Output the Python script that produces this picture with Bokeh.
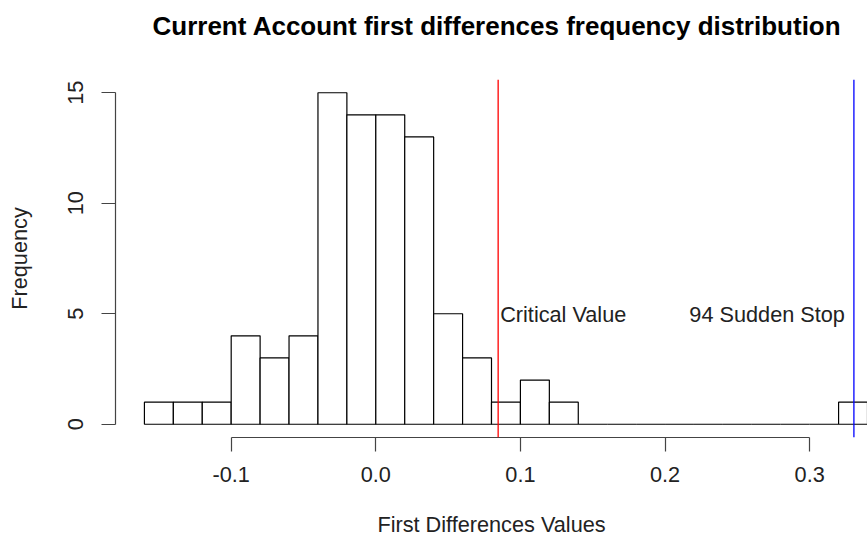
from bokeh.plotting import figure
from bokeh.models import Range1d, FixedTicker, Span, Title
from bokeh.embed import file_html
from bokeh.resources import INLINE
from bokeh.core.properties import value

# Histogram data (bin edges width 0.02 and counts)
bin_edges = [-0.16, -0.14, -0.12, -0.10, -0.08, -0.06, -0.04, -0.02, 0.00,
             0.02, 0.04, 0.06, 0.08, 0.10, 0.12, 0.14, 0.16, 0.18, 0.20,
             0.22, 0.24, 0.26, 0.28, 0.30, 0.32, 0.34]
counts = [1, 1, 1, 4, 3, 4, 15, 14, 14, 13, 5, 3, 1, 2, 1,
          0, 0, 0, 0, 0, 0, 0, 0, 0, 1]

critical_value = 0.0846
sudden_stop = 0.3306
annotation_y = 5

x_ticks = [-0.1, 0.0, 0.1, 0.2, 0.3]
x_tick_labels = ["-0.1", "0.0", "0.1", "0.2", "0.3"]
y_ticks = [0, 5, 10, 15]

FONT = "Liberation Sans"
FS = "21.7px"

p = figure(width=867, height=541, output_backend="svg", toolbar_location=None,
           x_range=Range1d(-0.18, 0.34), y_range=Range1d(-0.6, 15.6),
           min_border_left=115, min_border_right=0,
           min_border_top=79, min_border_bottom=104)

p.title.text = ""

# spacer between frame and title (closest to the frame)
spacer = Title(text=" ", text_font_size="1px", standoff=35.5)
p.add_layout(spacer, "above")

main_title = Title(text="Current Account first differences frequency distribution",
                   text_font=FONT, text_font_size="26px", text_font_style="bold",
                   align="left", vertical_align="bottom", offset=37, standoff=0,
                   text_color="black")
p.add_layout(main_title, "above")

p.outline_line_color = None
p.xgrid.visible = False
p.ygrid.visible = False
p.background_fill_color = "white"
p.border_fill_color = "white"

p.quad(left=bin_edges[:-1], right=bin_edges[1:], bottom=[0] * len(counts), top=counts,
       fill_color="white", line_color="black", line_width=1.2)

p.add_layout(Span(location=critical_value, dimension="height", line_color="red", line_width=1.3))
p.add_layout(Span(location=sudden_stop, dimension="height", line_color="blue", line_width=1.3))

p.text(x=[critical_value], y=[annotation_y], text=["Critical Value"],
       text_font=value(FONT), text_font_size=FS, text_color="#222222",
       text_align="left", text_baseline="alphabetic", x_offset=2, y_offset=1)
p.text(x=[sudden_stop], y=[annotation_y], text=["94 Sudden Stop"],
       text_font=value(FONT), text_font_size=FS, text_color="#222222",
       text_align="right", text_baseline="alphabetic", x_offset=-9, y_offset=1)

xa = p.xaxis[0]
xa.ticker = FixedTicker(ticks=x_ticks)
xa.major_label_overrides = {t: l for t, l in zip(x_ticks, x_tick_labels)}
xa.bounds = (x_ticks[0], x_ticks[-1])
xa.axis_label = "First Differences Values"

ya = p.yaxis[0]
ya.ticker = FixedTicker(ticks=y_ticks)
ya.bounds = (y_ticks[0], y_ticks[-1])
ya.axis_label = "Frequency"
ya.major_label_orientation = "vertical"

for ax in (xa, ya):
    ax.minor_tick_line_color = None
    ax.major_tick_in = 0
    ax.major_tick_out = 14
    ax.axis_line_color = "#444444"
    ax.major_tick_line_color = "#444444"
    ax.axis_line_width = 1.2
    ax.major_tick_line_width = 1.2
    ax.major_label_text_font = FONT
    ax.major_label_text_font_size = FS
    ax.major_label_text_color = "#222222"
    ax.axis_label_text_font = FONT
    ax.axis_label_text_font_size = FS
    ax.axis_label_text_font_style = "normal"
    ax.axis_label_text_color = "#222222"

xa.major_label_standoff = 15
xa.axis_label_standoff = 27
ya.major_label_standoff = 18
ya.axis_label_standoff = 34

open("out.html", "w").write(file_html(p, INLINE))
